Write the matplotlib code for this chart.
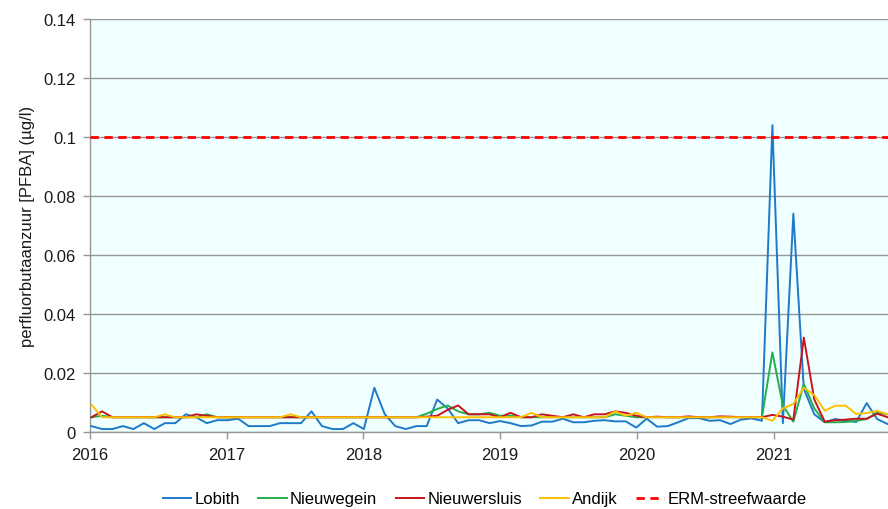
import matplotlib
matplotlib.use("Agg")
import matplotlib.pyplot as plt
import matplotlib.dates as mdates
from matplotlib.ticker import FuncFormatter, MultipleLocator
import pandas as pd
import datetime as dt

plt.rcParams['font.family'] = ['Liberation Sans', 'DejaVu Sans']

# 4-weekly sampling dates
start_date = '2016-01-05'
n_samples = 78
dates = pd.date_range(start_date, periods=n_samples, freq='28D')

lobith = [0.002, 0.001, 0.001, 0.002, 0.001, 0.003, 0.001, 0.003, 0.003, 0.006,
          0.005, 0.003, 0.004, 0.004, 0.0045, 0.002, 0.002, 0.002, 0.003, 0.003,
          0.003, 0.007, 0.002, 0.001, 0.001, 0.003, 0.001, 0.015, 0.006, 0.002,
          0.001, 0.002, 0.002, 0.011, 0.008, 0.003, 0.004, 0.004, 0.003, 0.0037,
          0.003, 0.002, 0.0022, 0.0035, 0.0035, 0.0045, 0.0033, 0.0033, 0.0038, 0.004,
          0.0036, 0.0036, 0.0015, 0.0045, 0.0018, 0.002, 0.0033, 0.0047, 0.0047, 0.0038,
          0.004, 0.0027, 0.0042, 0.0046, 0.0038, 0.104, 0.003, 0.074, 0.0146, 0.006,
          0.0033, 0.0044, 0.0038, 0.0034, 0.0098, 0.0044, 0.0027, 0.0025]

nieuwegein = [0.005, 0.0055, 0.005, 0.005, 0.005, 0.005, 0.005, 0.005, 0.005, 0.005,
              0.005, 0.006, 0.005, 0.005, 0.005, 0.005, 0.005, 0.005, 0.005, 0.005,
              0.005, 0.005, 0.005, 0.005, 0.005, 0.005, 0.005, 0.005, 0.005, 0.005,
              0.005, 0.005, 0.0062, 0.0078, 0.009, 0.007, 0.006, 0.006, 0.0065, 0.0055,
              0.0055, 0.005, 0.005, 0.005, 0.005, 0.005, 0.005, 0.005, 0.005, 0.005,
              0.006, 0.0055, 0.005, 0.005, 0.005, 0.005, 0.005, 0.005, 0.005, 0.005,
              0.005, 0.005, 0.005, 0.005, 0.005, 0.027, 0.009, 0.0035, 0.0163, 0.008,
              0.0033, 0.0033, 0.0034, 0.0038, 0.0044, 0.0066, 0.006, 0.0058]

nieuwersluis = [0.005, 0.007, 0.005, 0.005, 0.005, 0.005, 0.005, 0.005, 0.005, 0.005,
                0.006, 0.0055, 0.005, 0.005, 0.005, 0.005, 0.005, 0.005, 0.005, 0.005,
                0.005, 0.005, 0.005, 0.005, 0.005, 0.005, 0.005, 0.005, 0.005, 0.005,
                0.005, 0.005, 0.0052, 0.0055, 0.0075, 0.009, 0.006, 0.006, 0.006, 0.005,
                0.0065, 0.005, 0.005, 0.006, 0.0055, 0.005, 0.006, 0.005, 0.006, 0.006,
                0.007, 0.0065, 0.0055, 0.005, 0.0052, 0.005, 0.005, 0.0053, 0.005, 0.005,
                0.0053, 0.0052, 0.005, 0.005, 0.005, 0.0058, 0.0052, 0.0042, 0.032, 0.011,
                0.0035, 0.004, 0.0042, 0.0045, 0.0045, 0.0062, 0.005, 0.0045]

andijk = [0.0093, 0.005, 0.005, 0.005, 0.005, 0.005, 0.005, 0.006, 0.005, 0.005,
          0.005, 0.005, 0.005, 0.005, 0.005, 0.005, 0.005, 0.005, 0.005, 0.006,
          0.005, 0.005, 0.005, 0.005, 0.005, 0.005, 0.005, 0.005, 0.005, 0.005,
          0.005, 0.005, 0.005, 0.005, 0.005, 0.005, 0.005, 0.005, 0.005, 0.005,
          0.005, 0.005, 0.0065, 0.005, 0.005, 0.005, 0.005, 0.005, 0.005, 0.005,
          0.007, 0.0055, 0.0065, 0.005, 0.005, 0.005, 0.005, 0.005, 0.005, 0.005,
          0.005, 0.005, 0.005, 0.005, 0.005, 0.0038, 0.008, 0.0095, 0.015, 0.0125,
          0.0072, 0.0089, 0.0089, 0.0061, 0.0064, 0.0072, 0.006, 0.0058]

erm_streefwaarde = 0.1

series_names = ['Lobith', 'Nieuwegein', 'Nieuwersluis', 'Andijk']
series_values = [lobith, nieuwegein, nieuwersluis, andijk]
series_colors = ['#1f7ac9', '#21b04b', '#c8141e', '#ffc000']

fig = plt.figure(figsize=(8.88, 5.10), dpi=100)
ax = fig.add_axes([90/888, 77/510, 798/888, 413/510])
ax.set_facecolor('#f0ffff')

for name, vals, col in zip(series_names, series_values, series_colors):
    ax.plot(dates, vals, color=col, lw=1.4, label=name, zorder=3)

ax.axhline(erm_streefwaarde, color='#ff0000', lw=2.0, ls=(0, (3, 2)),
           label='ERM-streefwaarde', zorder=4)

ax.set_ylim(0, 0.14)
ax.yaxis.set_major_locator(MultipleLocator(0.02))
ax.yaxis.set_major_formatter(FuncFormatter(lambda v, p: '0' if abs(v) < 1e-12 else ('%g' % round(v, 4))))
ax.set_xlim(dt.datetime(2016, 1, 1), dt.datetime(2021, 11, 3))
ax.xaxis.set_major_locator(mdates.YearLocator())
ax.xaxis.set_major_formatter(mdates.DateFormatter('%Y'))

ax.grid(axis='y', color='#969696', lw=1.0, zorder=1)
ax.set_axisbelow(True)
for s in ['top', 'right']:
    ax.spines[s].set_visible(False)
for s in ['left', 'bottom']:
    ax.spines[s].set_color('#969696')
    ax.spines[s].set_linewidth(1.0)

ax.tick_params(axis='both', colors='#969696', labelcolor='#1a1a1a',
               labelsize=12, length=5, width=1.0, direction='out')
ax.tick_params(axis='y', pad=5)
ax.tick_params(axis='x', pad=6)

ax.set_ylabel('perfluorbutaanzuur [PFBA] (µg/l)', fontsize=12, color='#1a1a1a')
ax.yaxis.set_label_coords(-0.069, 0.5)

handles, labels = ax.get_legend_handles_labels()
fig.legend(handles, labels, loc='center', bbox_to_anchor=(0.546, 10/510),
           ncol=5, frameon=False, fontsize=12, handlelength=1.7,
           columnspacing=1.1, handletextpad=0.2, borderpad=0.1)

fig.savefig('out.png', dpi=100)
